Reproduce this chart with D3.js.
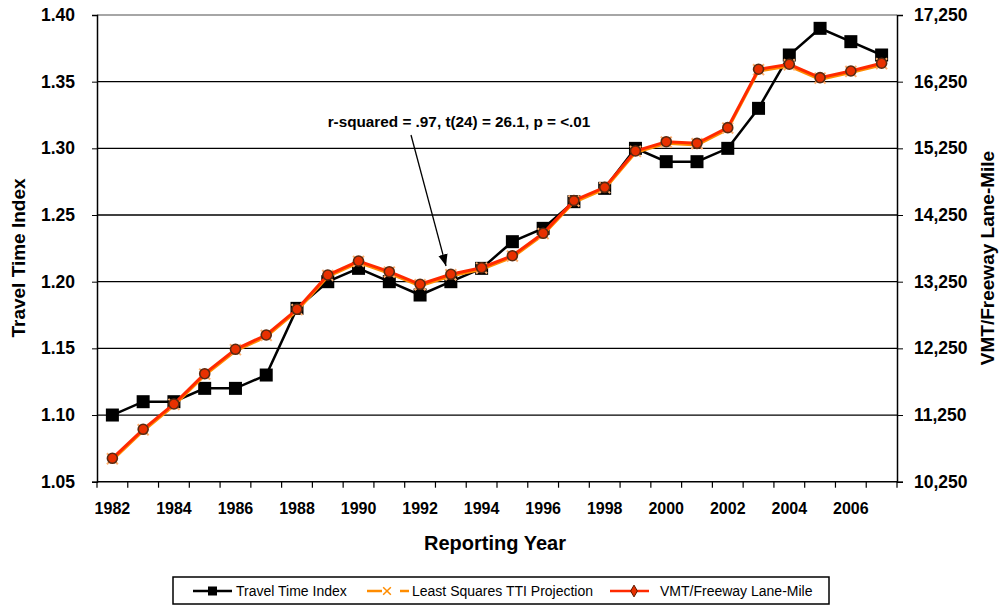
<!DOCTYPE html>
<html>
<head>
<meta charset="utf-8">
<script src="https://cdn.jsdelivr.net/npm/d3@7"></script>
<style>
  html, body { margin: 0; padding: 0; background: #fff; }
  svg { display: block; font-family: "Liberation Sans", Arial, sans-serif; }
</style>
</head>
<body>
<div id="chart"></div>
<script>
(function () {
  "use strict";

  var years = [1982, 1983, 1984, 1985, 1986, 1987, 1988, 1989, 1990, 1991, 1992, 1993, 1994,
    1995, 1996, 1997, 1998, 1999, 2000, 2001, 2002, 2003, 2004, 2005, 2006, 2007];

  var tti = [1.10, 1.11, 1.11, 1.12, 1.12, 1.13, 1.18, 1.20, 1.21, 1.20, 1.19, 1.20, 1.21,
    1.23, 1.24, 1.26, 1.27, 1.30, 1.29, 1.29, 1.30, 1.33, 1.37, 1.39, 1.38, 1.37];

  var projection = [1.0672, 1.0890, 1.1080, 1.1307, 1.1490, 1.1597, 1.1790, 1.2047, 1.2152,
    1.2072, 1.1977, 1.2052, 1.2102, 1.2192, 1.2360, 1.2605, 1.2705, 1.2977, 1.3047, 1.3035,
    1.3152, 1.3590, 1.3627, 1.3527, 1.3577, 1.3635];

  var vmt = [10601, 11036, 11416, 11870, 12236, 12450, 12836, 13350, 13560, 13400, 13211,
    13361, 13460, 13640, 13976, 14466, 14665, 15211, 15350, 15325, 15560, 16436, 16511,
    16310, 16410, 16526];

  var leftTicks = [1.05, 1.10, 1.15, 1.20, 1.25, 1.30, 1.35, 1.40];
  var rightTicks = [10250, 11250, 12250, 13250, 14250, 15250, 16250, 17250];
  var yearLabels = years.filter(function (d) { return d % 2 === 0; });

  var W = 1000, H = 607;
  var plot = { left: 97, right: 897, top: 15, bottom: 481.7 };

  var svg = d3.select("#chart").append("svg")
    .attr("width", W).attr("height", H);

  var x = d3.scaleBand().domain(years).range([plot.left, plot.right]);
  var cx = function (d) { return x(d) + x.bandwidth() / 2; };
  var yL = d3.scaleLinear().domain([1.05, 1.40]).range([plot.bottom, plot.top]);
  var yR = d3.scaleLinear().domain([10250, 17250]).range([plot.bottom, plot.top]);

  // gridlines
  svg.append("g").selectAll("line")
    .data(leftTicks.slice(1))
    .join("line")
    .attr("x1", plot.left).attr("x2", plot.right)
    .attr("y1", function (d) { return yL(d); })
    .attr("y2", function (d) { return yL(d); })
    .attr("stroke", function (d) { return d === 1.40 ? "#888" : "#000"; })
    .attr("stroke-width", 1.3);

  // left axis
  var gl = svg.append("g")
    .attr("transform", "translate(" + plot.left + ",0)")
    .call(d3.axisLeft(yL).tickValues(leftTicks).tickFormat(d3.format(".2f")).tickSize(5).tickPadding(17));
  gl.select(".domain").attr("stroke-width", 1.5);
  gl.selectAll("text").attr("font-size", 17.5).attr("font-weight", "bold").attr("fill", "#000")
    .attr("font-family", "Liberation Sans, Arial, sans-serif");

  // right axis
  var gr = svg.append("g")
    .attr("transform", "translate(" + plot.right + ",0)")
    .call(d3.axisRight(yR).tickValues(rightTicks).tickFormat(d3.format(",")).tickSize(6).tickPadding(11));
  gr.select(".domain").attr("stroke-width", 1.5);
  gr.selectAll("text").attr("font-size", 17.5).attr("font-weight", "bold").attr("fill", "#000")
    .attr("font-family", "Liberation Sans, Arial, sans-serif");

  // bottom axis: tick marks at category boundaries, labels every other year
  var gb = svg.append("g").attr("transform", "translate(0," + plot.bottom + ")");
  gb.append("line")
    .attr("x1", plot.left).attr("x2", plot.right)
    .attr("stroke", "#000").attr("stroke-width", 1.5);
  gb.selectAll("line.tick")
    .data(years.concat([2008]))
    .join("line")
    .attr("class", "tick")
    .attr("x1", function (d) { return d === 2008 ? plot.right : x(d); })
    .attr("x2", function (d) { return d === 2008 ? plot.right : x(d); })
    .attr("y1", 0).attr("y2", 6)
    .attr("stroke", "#000").attr("stroke-width", 1.2);
  gb.selectAll("text")
    .data(yearLabels)
    .join("text")
    .attr("x", cx)
    .attr("y", 32)
    .attr("text-anchor", "middle")
    .attr("font-size", 16).attr("font-weight", "bold")
    .text(function (d) { return d; });

  // axis titles
  svg.append("text")
    .attr("transform", "translate(25,258) rotate(-90)")
    .attr("text-anchor", "middle")
    .attr("font-size", 19).attr("font-weight", "bold")
    .text("Travel Time Index");
  svg.append("text")
    .attr("transform", "translate(994,258) rotate(-90)")
    .attr("text-anchor", "middle")
    .attr("font-size", 19).attr("font-weight", "bold")
    .text("VMT/Freeway Lane-Mile");
  svg.append("text")
    .attr("x", 495).attr("y", 550)
    .attr("text-anchor", "middle")
    .attr("font-size", 20).attr("font-weight", "bold")
    .text("Reporting Year");

  // Travel Time Index series
  var ttiLine = d3.line()
    .x(function (d, i) { return cx(years[i]); })
    .y(function (d) { return yL(d); });
  svg.append("path").datum(tti)
    .attr("d", ttiLine)
    .attr("fill", "none").attr("stroke", "#000").attr("stroke-width", 2.5);
  svg.append("g").selectAll("rect")
    .data(tti)
    .join("rect")
    .attr("x", function (d, i) { return cx(years[i]) - 6.5; })
    .attr("y", function (d) { return yL(d) - 6.5; })
    .attr("width", 13).attr("height", 13)
    .attr("fill", "#000");

  // least squares projection series
  svg.append("path").datum(projection)
    .attr("d", ttiLine)
    .attr("fill", "none").attr("stroke", "#ff8c00").attr("stroke-width", 2.5)
    .attr("transform", "translate(0,1.5)");
  var cross = d3.symbol().type(d3.symbolX).size(80);
  svg.append("g").selectAll("path")
    .data(projection)
    .join("path")
    .attr("d", cross)
    .attr("transform", function (d, i) { return "translate(" + cx(years[i]) + "," + yL(d) + ")"; })
    .attr("fill", "none").attr("stroke", "#ffb070").attr("stroke-width", 2);

  // VMT series
  var vmtLine = d3.line()
    .x(function (d, i) { return cx(years[i]); })
    .y(function (d) { return yR(d); });
  svg.append("path").datum(vmt)
    .attr("d", vmtLine)
    .attr("fill", "none").attr("stroke", "#ff2a00").attr("stroke-width", 3);
  svg.append("g").selectAll("circle")
    .data(vmt)
    .join("circle")
    .attr("cx", function (d, i) { return cx(years[i]); })
    .attr("cy", function (d) { return yR(d); })
    .attr("r", 5)
    .attr("fill", "#e83000").attr("stroke", "#5a2a10").attr("stroke-width", 1.6);

  // annotation
  svg.append("defs").append("marker")
    .attr("id", "arrow")
    .attr("viewBox", "0 0 10 10")
    .attr("refX", 10).attr("refY", 5)
    .attr("markerWidth", 9).attr("markerHeight", 9)
    .attr("orient", "auto")
    .append("path").attr("d", "M0,1 L10,5 L0,9 z").attr("fill", "#000");
  svg.append("line")
    .attr("x1", 411).attr("y1", 135).attr("x2", 446).attr("y2", 266)
    .attr("stroke", "#000").attr("stroke-width", 1.3)
    .attr("marker-end", "url(#arrow)");
  svg.append("text")
    .attr("x", 459).attr("y", 127)
    .attr("text-anchor", "middle")
    .attr("font-size", 15.3).attr("font-weight", "bold")
    .text("r-squared = .97, t(24) = 26.1, p = <.01");

  // legend
  var lg = svg.append("g");
  lg.append("rect")
    .attr("x", 173).attr("y", 577).attr("width", 656).attr("height", 27)
    .attr("fill", "#fff").attr("stroke", "#000").attr("stroke-width", 1.5);
  var ly = 591;
  lg.append("line").attr("x1", 193).attr("x2", 232).attr("y1", ly).attr("y2", ly)
    .attr("stroke", "#000").attr("stroke-width", 2.5);
  lg.append("rect").attr("x", 208).attr("y", ly - 4.5).attr("width", 9).attr("height", 9).attr("fill", "#000");
  lg.append("text").attr("x", 236).attr("y", ly + 5).attr("font-size", 14).text("Travel Time Index");

  lg.append("line").attr("x1", 367).attr("x2", 382).attr("y1", ly).attr("y2", ly)
    .attr("stroke", "#ff8c00").attr("stroke-width", 2.5);
  lg.append("line").attr("x1", 400).attr("x2", 409).attr("y1", ly).attr("y2", ly)
    .attr("stroke", "#ff8c00").attr("stroke-width", 2.5);
  lg.append("path").attr("d", d3.symbol().type(d3.symbolX).size(40))
    .attr("transform", "translate(387," + ly + ")")
    .attr("fill", "none").attr("stroke", "#ff8c00").attr("stroke-width", 1.5);
  lg.append("text").attr("x", 412).attr("y", ly + 5).attr("font-size", 14).text("Least Squares TTI Projection");

  lg.append("line").attr("x1", 610).attr("x2", 649).attr("y1", ly).attr("y2", ly)
    .attr("stroke", "#ff2a00").attr("stroke-width", 2.5);
  lg.append("path").attr("d", d3.symbol().type(d3.symbolDiamond).size(40))
    .attr("transform", "translate(634," + ly + ")")
    .attr("fill", "#e83000").attr("stroke", "#5a1a00").attr("stroke-width", 1);
  lg.append("text").attr("x", 660).attr("y", ly + 5).attr("font-size", 14).text("VMT/Freeway Lane-Mile");
})();
</script>
</body>
</html>
